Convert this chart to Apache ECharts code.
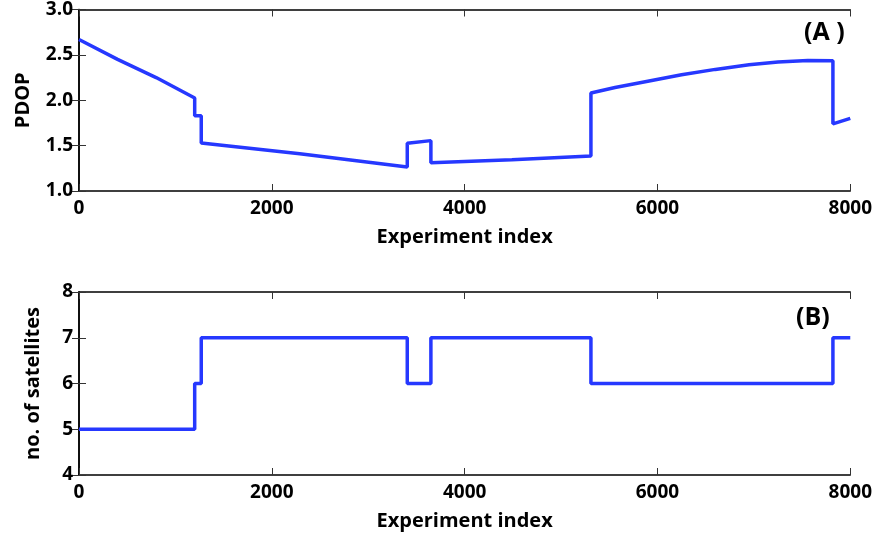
<!DOCTYPE html>
<html>
<head>
<meta charset="utf-8">
<script src="https://cdn.jsdelivr.net/npm/echarts@6/dist/echarts.min.js"></script>
<style>
html,body{margin:0;padding:0;background:#fff;}
#chart{width:875px;height:540px;}
</style>
</head>
<body>
<div id="chart"></div>
<script>
// PDOP along the experiment index (panel A)
var pdopData = [
    [0,2.67],[400,2.45],[800,2.25],[1200,2.025],
    [1200,1.83],[1268,1.83],[1268,1.53],
    [2290,1.41],[3405,1.265],
    [3405,1.525],[3650,1.555],[3650,1.31],
    [4490,1.345],[5310,1.385],
    [5310,2.08],[5560,2.14],[5900,2.21],[6250,2.28],[6600,2.34],[6950,2.39],
    [7250,2.422],[7560,2.438],[7820,2.435],
    [7820,1.74],[8000,1.80]
];
// number of satellites in view (panel B)
var satData = [
    [0,5],[1200,5],[1200,6],[1268,6],[1268,7],
    [3405,7],[3405,6],[3650,6],[3650,7],
    [5310,7],[5310,6],[7820,6],[7820,7],[8000,7]
];
var xTicks = [0,2000,4000,6000,8000];
var pdopTicks = [1.0,1.5,2.0,2.5,3.0];
var satTicks = [4,5,6,7,8];

var chart = echarts.init(document.getElementById('chart'));
var font = {fontFamily:'Open Sans', fontWeight:'bold', color:'#000'};
var lineColor = '#2638ff';

function xAx(grid, pos, labels, name){
    return {
        type:'value', gridIndex:grid, position:pos,
        min:xTicks[0], max:xTicks[xTicks.length-1], interval:2000,
        name: name || '', nameLocation:'middle', nameGap:36,
        nameTextStyle:Object.assign({fontSize:20}, font),
        axisLine:{show:true, lineStyle:{color:'#000', width:1.5}},
        axisTick:{show:true, inside:true, length:7, lineStyle:{color:'#333', width:1}},
        axisLabel:Object.assign({show:labels, fontSize:19, margin:8, formatter:function(v){return String(v);}}, font),
        splitLine:{show:false}
    };
}
function yAx(grid, pos, ticks, labels, name, gap, fmt){
    return {
        type:'value', gridIndex:grid, position:pos,
        min:ticks[0], max:ticks[ticks.length-1], interval:ticks[1]-ticks[0],
        name: name || '', nameLocation:'middle', nameGap:gap || 40,
        nameTextStyle:Object.assign({fontSize:20}, font),
        axisLine:{show:true, lineStyle:{color:'#000', width:1.5}},
        axisTick:{show:true, inside:true, length:7, lineStyle:{color:'#333', width:1}},
        axisLabel:Object.assign({show:labels, fontSize:19, margin:6, formatter:fmt}, font),
        splitLine:{show:false}
    };
}

chart.setOption({
    backgroundColor:'#fff',
    animation:false,
    grid:[
        {left:79, right:23, top:7, height:184},
        {left:79, right:23, top:292, height:183}
    ],
    xAxis:[
        xAx(0,'bottom',true,'Experiment index'),
        xAx(0,'top',false),
        xAx(1,'bottom',true,'Experiment index'),
        xAx(1,'top',false)
    ],
    yAxis:[
        yAx(0,'left',pdopTicks,true,'PDOP',46,function(v){return v.toFixed(1);}),
        yAx(0,'right',pdopTicks,false),
        yAx(1,'left',satTicks,true,'no. of satellites',36,function(v){return v;}),
        yAx(1,'right',satTicks,false)
    ],
    series:[
        {type:'line', xAxisIndex:0, yAxisIndex:0, data:pdopData, showSymbol:false,
         lineStyle:{color:lineColor, width:3.5}, z:5},
        {type:'line', xAxisIndex:2, yAxisIndex:2, data:satData, showSymbol:false,
         lineStyle:{color:lineColor, width:3.5}, z:5}
    ],
    graphic:[
        {type:'text', left:804, top:20, style:Object.assign({text:'(A )', fontSize:25, fill:'#000'}, font)},
        {type:'text', left:796, top:305, style:Object.assign({text:'(B)', fontSize:25, fill:'#000'}, font)}
    ]
});
</script>
</body>
</html>
